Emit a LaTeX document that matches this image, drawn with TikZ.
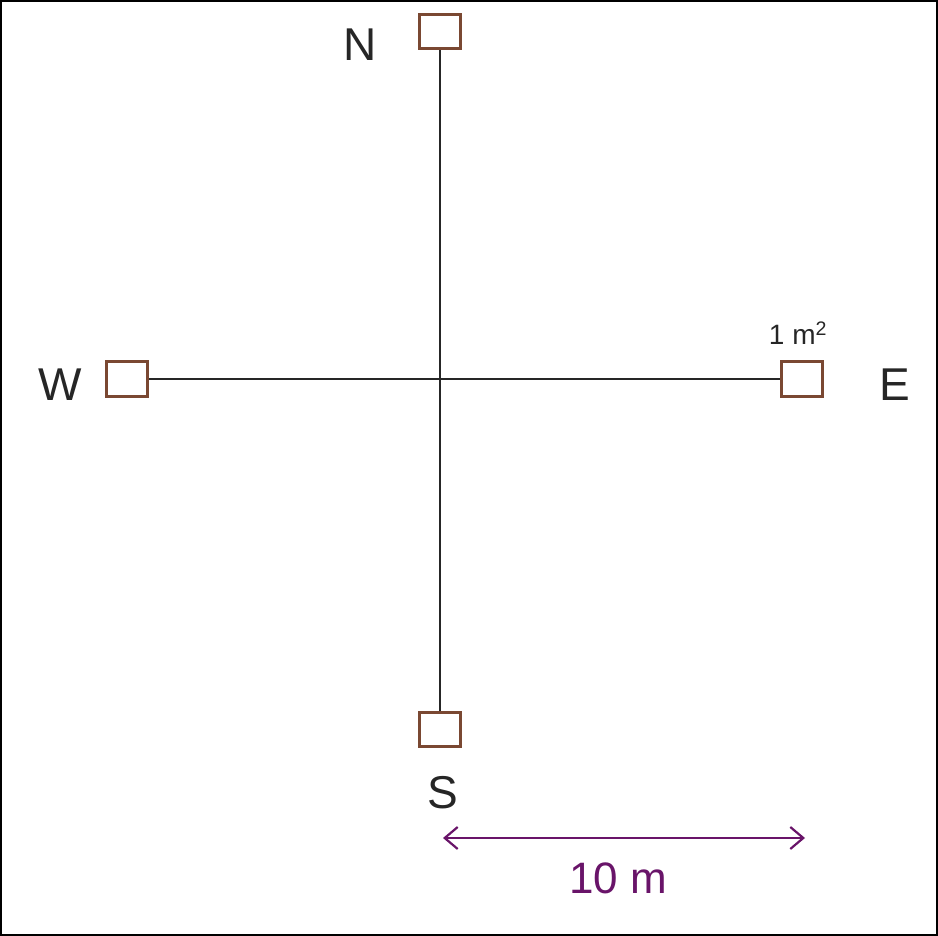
\documentclass[tikz,border=0pt]{standalone}
\usepackage{fontspec}
\setmainfont{Liberation Sans}
\usetikzlibrary{arrows.meta}
\definecolor{boxbrown}{RGB}{122,72,50}
\definecolor{scalepurple}{RGB}{105,20,105}
\begin{document}
\begin{tikzpicture}[x=1pt,y=-1pt,
  plot/.style={draw=boxbrown,line width=3pt,fill=white,minimum width=41pt,minimum height=34pt,inner sep=0pt},
  axisline/.style={draw=black!85,line width=2.2pt},
  dir/.style={font=\fontsize{46}{46}\selectfont,text=black!85,inner sep=0pt},
  scale line/.style={draw=scalepurple,line width=2.2pt,{Straight Barb[length=13pt,width=22pt,line width=2.2pt]}-{Straight Barb[length=13pt,width=22pt,line width=2.2pt]}}]
\draw[line width=2pt] (1,1) rectangle (937,935);
\useasboundingbox (0,0) rectangle (938,936);
\node[plot] (N) at (440,32) {};
\node[plot] (S) at (440,729) {};
\node[plot] (W) at (127,379) {};
\node[plot] (E) at (802,379) {};
\draw[axisline] (N.south) -- (S.north);
\draw[axisline] (W.east) -- (E.west);
\node[dir] (lN) at (360,45) {N};
\node[dir] (lS) at (443,793) {S};
\node[dir] (lW) at (60,385) {W};
\node[dir] (lE) at (895,385) {E};
\node[font=\fontsize{28}{28}\selectfont,text=black!85,inner sep=0pt] (area) at (798,333) {1 m\textsuperscript{2}};
\coordinate (a1) at (443,838);
\coordinate (a2) at (805,838);
\draw[scale line] (a1) -- (a2);
\node[font=\fontsize{44}{44}\selectfont,text=scalepurple,inner sep=0pt] (len) at (618,878) {10 m};
\end{tikzpicture}
\end{document}
